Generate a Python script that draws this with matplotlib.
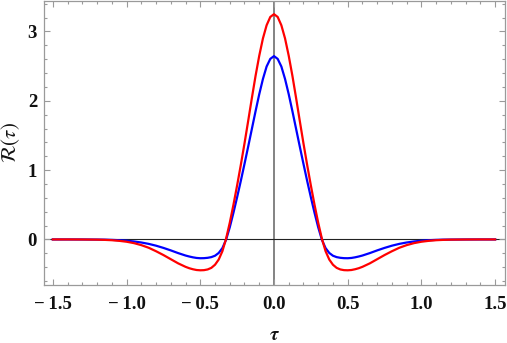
import matplotlib
matplotlib.use("Agg")
import matplotlib.pyplot as plt
from matplotlib.ticker import MultipleLocator, FixedLocator

plt.rcParams["mathtext.fontset"] = "stix"

# ---- data ----
tau_neg = [-1.5, -1.4, -1.3, -1.2, -1.15, -1.1, -1.05, -1.0, -0.95, -0.9, -0.85, -0.8,
           -0.75, -0.7, -0.65, -0.6, -0.575, -0.55, -0.525, -0.5, -0.475, -0.45, -0.425,
           -0.4, -0.375, -0.35, -0.325, -0.3, -0.275, -0.25, -0.225, -0.2, -0.175,
           -0.15, -0.125, -0.1, -0.075, -0.05, -0.025]
tau_pos = [0.0, 0.025, 0.05, 0.075, 0.1, 0.125, 0.15, 0.175, 0.2, 0.225, 0.25, 0.275,
           0.3, 0.325, 0.35, 0.375, 0.4, 0.425, 0.45, 0.475, 0.5, 0.525, 0.55, 0.575,
           0.6, 0.65, 0.7, 0.75, 0.8, 0.85, 0.9, 0.95, 1.0, 1.05, 1.1, 1.15, 1.2, 1.3,
           1.4, 1.5]

red_neg = [0.0, 0.0, -0.001, -0.003, -0.006, -0.011, -0.02, -0.033, -0.053, -0.082,
           -0.12, -0.17, -0.225, -0.285, -0.345, -0.395, -0.415, -0.43, -0.441, -0.445,
           -0.443, -0.433, -0.41, -0.365, -0.29, -0.17, 0.01, 0.24, 0.50, 0.78, 1.075,
           1.385, 1.71, 2.04, 2.36, 2.65, 2.90, 3.09, 3.21]
red_pos = [3.25, 3.21, 3.09, 2.90, 2.65, 2.36, 2.04, 1.71, 1.385, 1.075, 0.78, 0.50,
           0.24, 0.01, -0.17, -0.29, -0.365, -0.41, -0.433, -0.443, -0.445, -0.441,
           -0.43, -0.415, -0.395, -0.345, -0.285, -0.225, -0.17, -0.12, -0.082, -0.053,
           -0.033, -0.02, -0.011, -0.006, -0.003, -0.001, 0.0, 0.0]

blue_neg = [0.0, 0.0, -0.0005, -0.002, -0.003, -0.006, -0.011, -0.018, -0.029, -0.044,
            -0.064, -0.09, -0.122, -0.158, -0.197, -0.232, -0.246, -0.258, -0.267,
            -0.271, -0.27, -0.265, -0.255, -0.235, -0.195, -0.125, -0.005, 0.175, 0.385,
            0.61, 0.845, 1.09, 1.34, 1.595, 1.85, 2.095, 2.315, 2.495, 2.605]
blue_pos = [2.645, 2.605, 2.495, 2.315, 2.095, 1.85, 1.595, 1.34, 1.09, 0.845, 0.61,
            0.385, 0.175, -0.005, -0.125, -0.195, -0.235, -0.255, -0.265, -0.27, -0.271,
            -0.267, -0.258, -0.246, -0.232, -0.197, -0.158, -0.122, -0.09, -0.064,
            -0.044, -0.029, -0.018, -0.011, -0.006, -0.003, -0.002, -0.0005, 0.0, 0.0]

tau = tau_neg + tau_pos
red = red_neg + red_pos
blue = blue_neg + blue_pos

xticks = [-1.5, -1.0, -0.5, 0.0, 0.5, 1.0, 1.5]
xticklabels = ["\u2212\u20091.5", "\u2212\u20091.0", "\u2212\u20090.5", "0.0", "0.5", "1.0", "1.5"]
yticks = [0, 1, 2, 3]
yticklabels = ["0", "1", "2", "3"]

# ---- figure ----
W, H = 507, 343
fig = plt.figure(figsize=(W / 100, H / 100), dpi=100)
ax = fig.add_axes([44 / W, 1 - 284.5 / H, (505 - 44) / W, (284.5 - 1) / H])

frame_col = "#9a9a9a"
ax.axvline(0, color="#7a7a7a", lw=1.3, zorder=1)
ax.axhline(0, color="#222222", lw=0.8, zorder=1)

ax.plot(tau, blue, color="#0000ff", lw=1.6, zorder=3)
ax.plot(tau, red, color="#ff0000", lw=1.6, zorder=4)

ax.set_xlim(-1.56, 1.567)
ax.set_ylim(-0.65, 3.44)

for s in ax.spines.values():
    s.set_color(frame_col)
    s.set_linewidth(0.9)

ax.xaxis.set_major_locator(FixedLocator(xticks))
ax.xaxis.set_minor_locator(MultipleLocator(0.1))
ax.yaxis.set_major_locator(FixedLocator(yticks))
ax.yaxis.set_minor_locator(MultipleLocator(0.2))
ax.set_xticklabels(xticklabels)
ax.set_yticklabels(yticklabels)

ax.tick_params(which="both", direction="in", top=True, right=True,
               color=frame_col, width=0.8)
ax.tick_params(which="major", length=4.5)
ax.tick_params(which="minor", length=2.5)
ax.tick_params(axis="x", which="major", pad=8)
ax.tick_params(axis="y", which="major", pad=5)

for lab in ax.get_xticklabels() + ax.get_yticklabels():
    lab.set_fontfamily("Liberation Serif")
    lab.set_fontweight("bold")
    lab.set_fontsize(13.5)
    lab.set_color("#111111")

ax.set_xlabel(r"$\boldsymbol{\tau}$", fontsize=14, labelpad=9, color="#111111")
ax.set_ylabel(r"$\mathcal{R}(\tau)$", fontsize=15, labelpad=4, color="#111111")

fig.savefig("out.png", dpi=100)
